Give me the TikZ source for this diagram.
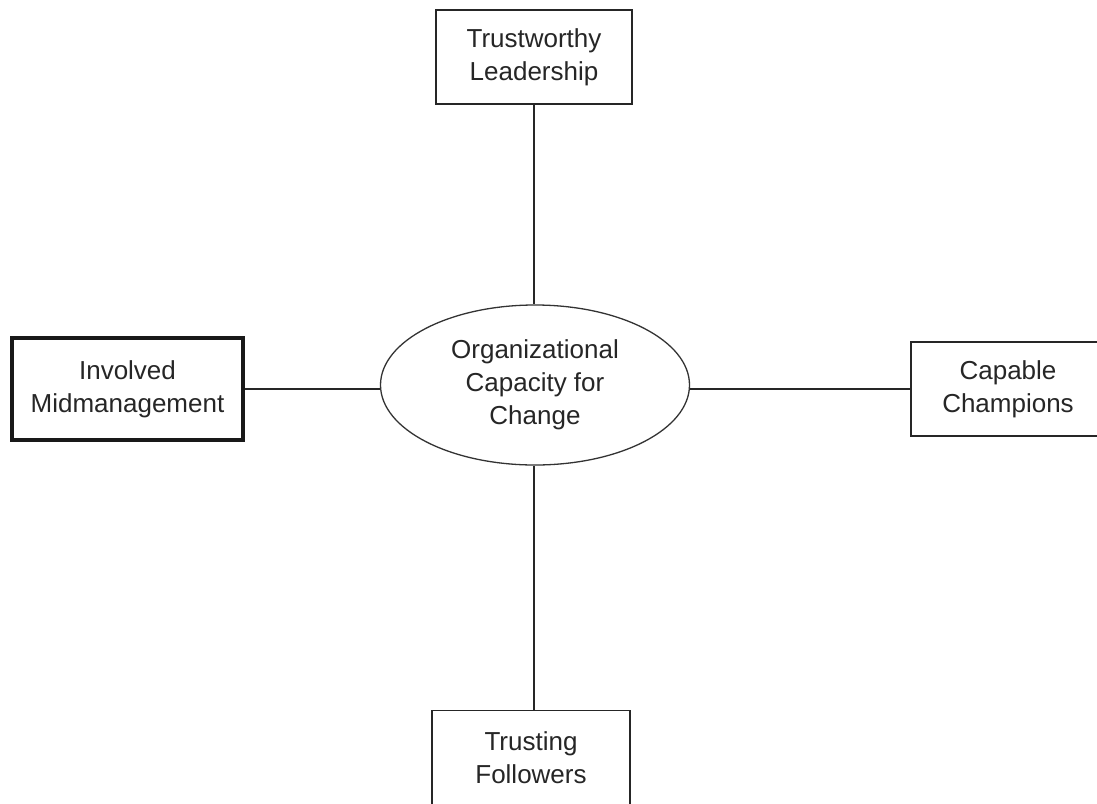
\documentclass[tikz,border=0pt]{standalone}
\usepackage{fontspec}
\setmainfont{Liberation Sans}
\usetikzlibrary{shapes.geometric}
\begin{document}
\begin{tikzpicture}[x=1pt,y=-1pt,
  every node/.style={font=\fontsize{26}{33}\selectfont, text=black!85, align=center, inner sep=0pt},
  boxnode/.style={draw=black!85, line width=1.5pt, rectangle, minimum width=#1, minimum height=94},
  thickbox/.style={draw=black!90, line width=4pt, rectangle, minimum width=231, minimum height=102},
  ellnode/.style={draw=black!80, line width=1.3pt, ellipse, minimum width=309, minimum height=160},
  link/.style={draw=black!85, line width=1.5pt}]
\useasboundingbox (0,0) rectangle (1097,803);
\fill[white] (0,0) rectangle (1097,803);
\node[ellnode] (ell) at (535,385) {Organizational\\Capacity for\\Change};
\node[boxnode=196] (top) at (534,57) {Trustworthy\\Leadership};
\node[boxnode=198] (bot) at (531,757.5) {Trusting\\Followers};
\node[thickbox] (left) at (127.5,389) {Involved\\Midmanagement};
\node[boxnode=194] (right) at (1008,389) {Capable\\Champions};
\draw[link] (top.south) -- (top.south |- ell.north);
\draw[link] (bot.north -| top.south) -- (ell.south -| top.south);
\draw[link] (left.east) -- (ell.west |- left.east);
\draw[link] (right.west) -- (ell.east |- right.west);
\end{tikzpicture}
\end{document}
